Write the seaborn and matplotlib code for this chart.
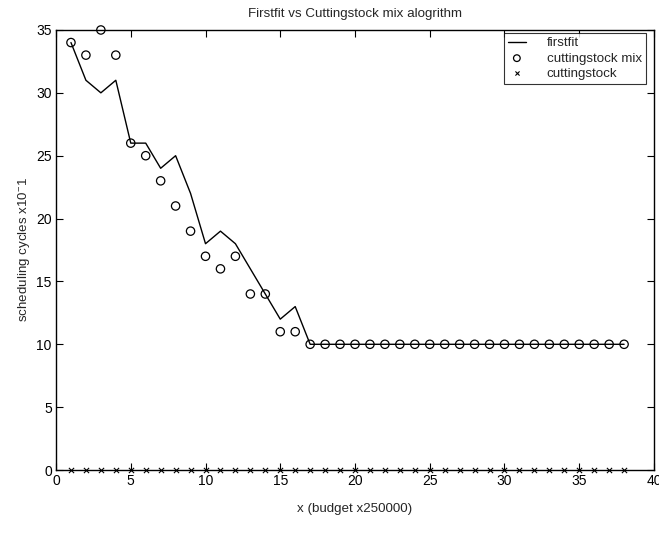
import numpy as np
import pandas as pd
import matplotlib
matplotlib.use("Agg")
import matplotlib.pyplot as plt
import seaborn as sns

x_vals = list(range(1, 39))
firstfit = [34, 31, 30, 31, 26, 26, 24, 25, 22, 18, 19, 18, 16, 14, 12, 13, 10] + [10] * 21
cutting_mix = [34, 33, 35, 33, 26, 25, 23, 21, 19, 17, 16, 17, 14, 14, 11, 11, 10] + [10] * 21
cuttingstock = [0] * 38

sns.set_style("ticks")
plt.rcParams['font.family'] = ['Liberation Sans', 'DejaVu Sans']
plt.rcParams['mathtext.fontset'] = 'custom'
plt.rcParams['mathtext.rm'] = 'Liberation Sans'

df = pd.DataFrame({"x": x_vals, "firstfit": firstfit,
                   "mix": cutting_mix, "cs": cuttingstock})

fig = plt.figure(figsize=(6.59, 5.48), dpi=100)
ax = fig.add_axes([0.085, 0.1423, 0.9074, 0.803])

sns.lineplot(data=df, x="x", y="firstfit", ax=ax, color="black", lw=1.0, label="firstfit")
sns.scatterplot(data=df, x="x", y="mix", ax=ax, marker="o", s=36, facecolor="none",
                edgecolor="black", linewidth=0.9, label="cuttingstock mix", zorder=3,
                clip_on=False)
sns.scatterplot(data=df, x="x", y="cs", ax=ax, marker="x", s=14, color="black",
                linewidth=0.8, label="cuttingstock", zorder=3, clip_on=False)

ax.set_xlim(0, 40)
ax.set_ylim(0, 35)
ax.set_xticks(range(0, 41, 5))
ax.set_yticks(range(0, 36, 5))
ax.tick_params(direction="in", top=True, right=True, length=5, width=0.8,
               labelsize=10, colors="black", pad=3)
for s in ax.spines.values():
    s.set_visible(True)
    s.set_linewidth(1.0)
    s.set_color("black")

ax.set_title("Firstfit vs Cuttingstock mix alogrithm", fontsize=9.6, pad=9)
ax.set_xlabel("x (budget x250000)", fontsize=9.6, labelpad=11)
ax.set_ylabel(r"scheduling cycles x10$^{-}$1", fontsize=9.6, labelpad=3)

leg = ax.legend(loc="upper right", bbox_to_anchor=(0.9866, 0.993), fontsize=9.6,
                frameon=True, fancybox=False, edgecolor="black", borderaxespad=0,
                handlelength=1.3, handletextpad=1.6, labelspacing=0.22,
                borderpad=0.3, markerscale=0.8)
leg.get_frame().set_linewidth(0.8)

fig.savefig("out.png", dpi=100)
